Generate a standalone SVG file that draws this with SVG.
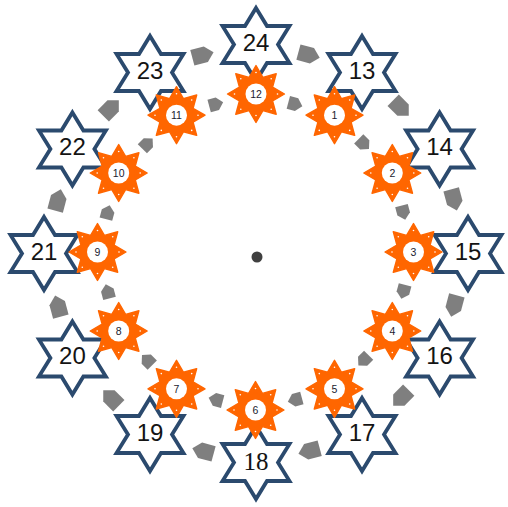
<svg xmlns="http://www.w3.org/2000/svg" xmlns:xlink="http://www.w3.org/1999/xlink" width="508" height="507" viewBox="0 0 508 507">
<style>
.star{fill:#fff;stroke:#2B4A6E;stroke-width:3.8;stroke-linejoin:miter}
.st{font-family:"Liberation Sans",Arial,sans-serif;font-size:24px;fill:#141414;text-anchor:middle}
.sts{font-family:"Liberation Serif","Times New Roman",serif;font-size:25px;fill:#141414;text-anchor:middle}
.sun{fill:#FF6600;stroke:#FF6600;stroke-width:1.4;stroke-linejoin:round}
.core{fill:#fff}
.sn{font-family:"Liberation Sans",Arial,sans-serif;font-size:10.5px;fill:#1a1a2e;text-anchor:middle}
.arr{fill:#7F7F7F}
</style>
<defs>
<path id="hex" class="star" d="M0,-36.5 L11,-18.5 L33.5,-18.5 L22,0 L33.5,18.5 L11,18.5 L0,36.5 L-11,18.5 L-33.5,18.5 L-22,0 L-33.5,-18.5 L-11,-18.5 Z"/>
<g id="sunshape">
<path class="sun" d="M0,-28.5 L6.9,-16.6 L20.2,-20.2 L16.6,-6.9 L28.5,0 L16.6,6.9 L20.2,20.2 L6.9,16.6 L0,28.5 L-6.9,16.6 L-20.2,20.2 L-16.6,6.9 L-28.5,0 L-16.6,-6.9 L-20.2,-20.2 L-6.9,-16.6 Z"/>
<circle class="sun" r="17"/>
<circle class="core" r="10.5"/>
<g fill="#fff">
<circle cx="0" cy="-21.5" r="0.8"/><circle cx="15.2" cy="-15.2" r="0.8"/><circle cx="21.5" cy="0" r="0.8"/><circle cx="15.2" cy="15.2" r="0.8"/>
<circle cx="0" cy="21.5" r="0.8"/><circle cx="-15.2" cy="15.2" r="0.8"/><circle cx="-21.5" cy="0" r="0.8"/><circle cx="-15.2" cy="-15.2" r="0.8"/>
</g>
</g>
<path id="oa" class="arr" d="M-11,-8 L3,-8 L11,0 L3,8 L-11,8 Z"/>
<path id="ia" class="arr" d="M-7,-6.5 L1.5,-6.5 L7.5,0 L1.5,6.5 L-7,6.5 Z"/>
</defs>
<rect width="508" height="507" fill="#fff"/>

<g id="outer-stars">
<g id="s24" transform="translate(256,44.5)"><use xlink:href="#hex"/><text class="st" y="6">24</text></g>
<g id="s13" transform="translate(362,72.5)"><use xlink:href="#hex"/><text class="st" y="6">13</text></g>
<g id="s14" transform="translate(439.6,149)"><use xlink:href="#hex"/><text class="st" y="6">14</text></g>
<g id="s15" transform="translate(468,253.5)"><use xlink:href="#hex"/><text class="st" y="6">15</text></g>
<g id="s16" transform="translate(439.6,358)"><use xlink:href="#hex"/><text class="st" y="6">16</text></g>
<g id="s17" transform="translate(362,434.5)"><use xlink:href="#hex"/><text class="st" y="6">17</text></g>
<g id="s18" transform="translate(256,462.5)"><use xlink:href="#hex"/><text class="sts" y="7">18</text></g>
<g id="s19" transform="translate(150,434.5)"><use xlink:href="#hex"/><text class="st" y="6">19</text></g>
<g id="s20" transform="translate(72.4,358)"><use xlink:href="#hex"/><text class="st" y="6">20</text></g>
<g id="s21" transform="translate(44,253.5)"><use xlink:href="#hex"/><text class="st" y="6">21</text></g>
<g id="s22" transform="translate(72.4,149)"><use xlink:href="#hex"/><text class="st" y="6">22</text></g>
<g id="s23" transform="translate(150,72.5)"><use xlink:href="#hex"/><text class="st" y="6">23</text></g>
</g>

<g id="connectors">
<use xlink:href="#oa" transform="rotate(15,256,253) translate(256,48)"/>
<use xlink:href="#oa" transform="rotate(45,256,253) translate(256,48)"/>
<use xlink:href="#oa" transform="rotate(75,256,253) translate(256,48)"/>
<use xlink:href="#oa" transform="rotate(105,256,253) translate(256,48)"/>
<use xlink:href="#oa" transform="rotate(135,256,253) translate(256,48)"/>
<use xlink:href="#oa" transform="rotate(165,256,253) translate(256,48)"/>
<use xlink:href="#oa" transform="rotate(195,256,253) translate(256,48)"/>
<use xlink:href="#oa" transform="rotate(225,256,253) translate(256,48)"/>
<use xlink:href="#oa" transform="rotate(255,256,253) translate(256,48)"/>
<use xlink:href="#oa" transform="rotate(285,256,253) translate(256,48)"/>
<use xlink:href="#oa" transform="rotate(315,256,253) translate(256,48)"/>
<use xlink:href="#oa" transform="rotate(345,256,253) translate(256,48)"/>
<use xlink:href="#ia" transform="rotate(15,255.5,252) translate(255.5,99)"/>
<use xlink:href="#ia" transform="rotate(45,255.5,252) translate(255.5,99)"/>
<use xlink:href="#ia" transform="rotate(75,255.5,252) translate(255.5,99)"/>
<use xlink:href="#ia" transform="rotate(105,255.5,252) translate(255.5,99)"/>
<use xlink:href="#ia" transform="rotate(135,255.5,252) translate(255.5,99)"/>
<use xlink:href="#ia" transform="rotate(165,255.5,252) translate(255.5,99)"/>
<use xlink:href="#ia" transform="rotate(195,255.5,252) translate(255.5,99)"/>
<use xlink:href="#ia" transform="rotate(225,255.5,252) translate(255.5,99)"/>
<use xlink:href="#ia" transform="rotate(255,255.5,252) translate(255.5,99)"/>
<use xlink:href="#ia" transform="rotate(285,255.5,252) translate(255.5,99)"/>
<use xlink:href="#ia" transform="rotate(315,255.5,252) translate(255.5,99)"/>
<use xlink:href="#ia" transform="rotate(345,255.5,252) translate(255.5,99)"/>
</g>

<g id="inner-suns">
<g id="n12" transform="translate(256,94)"><use xlink:href="#sunshape"/><text class="sn" y="4">12</text></g>
<g id="n1" transform="translate(334.5,115.2)"><use xlink:href="#sunshape"/><text class="sn" y="4">1</text></g>
<g id="n2" transform="translate(392.3,173)"><use xlink:href="#sunshape"/><text class="sn" y="4">2</text></g>
<g id="n3" transform="translate(413.5,252)"><use xlink:href="#sunshape"/><text class="sn" y="4">3</text></g>
<g id="n4" transform="translate(392.3,331)"><use xlink:href="#sunshape"/><text class="sn" y="4">4</text></g>
<g id="n5" transform="translate(334.5,388.8)"><use xlink:href="#sunshape"/><text class="sn" y="4">5</text></g>
<g id="n6" transform="translate(255.5,410)"><use xlink:href="#sunshape"/><text class="sn" y="4">6</text></g>
<g id="n7" transform="translate(176.5,388.8)"><use xlink:href="#sunshape"/><text class="sn" y="4">7</text></g>
<g id="n8" transform="translate(118.7,331)"><use xlink:href="#sunshape"/><text class="sn" y="4">8</text></g>
<g id="n9" transform="translate(97.5,252)"><use xlink:href="#sunshape"/><text class="sn" y="4">9</text></g>
<g id="n10" transform="translate(118.7,173)"><use xlink:href="#sunshape"/><text class="sn" y="4">10</text></g>
<g id="n11" transform="translate(176.5,115.2)"><use xlink:href="#sunshape"/><text class="sn" y="4">11</text></g>
</g>

<g id="center-dot"><circle cx="257" cy="257" r="5.5" fill="#404040"/></g>
</svg>
